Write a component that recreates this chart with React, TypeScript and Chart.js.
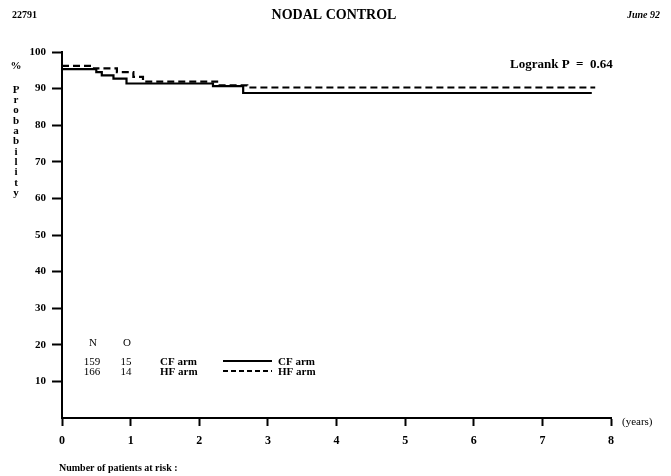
import React, { useEffect, useRef } from 'react';
import { Chart, registerables } from 'chart.js';

Chart.register(...registerables);

// Kaplan-Meier nodal control curves (time in years, % probability)
const cfYears = [0, 0.5, 0.58, 0.75, 0.94, 2.2, 2.64, 7.72];
const cfSurvival = [95.3, 94.5, 93.6, 92.7, 91.4, 90.7, 88.8, 88.8];
const hfYears = [0, 0.45, 0.8, 1.04, 1.18, 2.26, 2.7, 7.77];
const hfSurvival = [96.2, 95.5, 94.5, 93.2, 91.9, 90.9, 90.3, 90.3];

// Summary table: patients (N) and observed events (O)
const armNames = ['CF arm', 'HF arm'];
const armPatients = [159, 166];
const armEvents = [15, 14];

const yAxisLetters = ['P', 'r', 'o', 'b', 'a', 'b', 'i', 'l', 'i', 't', 'y'];

const SERIF = "'Liberation Serif', 'DejaVu Serif', serif";

const annotations = {
  id: 'annotations',
  afterDraw(chart: Chart) {
    const ctx = chart.ctx;
    const { right, bottom } = chart.chartArea;
    ctx.save();
    ctx.fillStyle = '#000';
    ctx.strokeStyle = '#000';
    ctx.textBaseline = 'middle';

    // header
    ctx.font = `bold 10px ${SERIF}`;
    ctx.textAlign = 'left';
    ctx.fillText('22791', 12, 15);
    ctx.font = `bold 14px ${SERIF}`;
    ctx.textAlign = 'center';
    ctx.fillText('NODAL CONTROL', 334, 15);
    ctx.font = `italic bold 10px ${SERIF}`;
    ctx.textAlign = 'right';
    ctx.fillText('June 92', 660, 15);

    // logrank
    ctx.font = `bold 13px ${SERIF}`;
    ctx.textAlign = 'left';
    ctx.fillText('Logrank P  =  0.64', 510, 65);

    // vertical y title
    ctx.font = `bold 11px ${SERIF}`;
    ctx.textAlign = 'center';
    ctx.fillText('%', 16, 66);
    yAxisLetters.forEach((ch, i) => ctx.fillText(ch, 16, 90 + i * 10.3));

    // x unit
    ctx.font = `11px ${SERIF}`;
    ctx.textAlign = 'left';
    ctx.fillText('(years)', right + 11, bottom + 4);

    // number at risk caption
    ctx.font = `bold 10px ${SERIF}`;
    ctx.fillText('Number of patients at risk :', 59, 468);

    // N / O table with line-style key
    ctx.font = `11px ${SERIF}`;
    ctx.textAlign = 'center';
    ctx.fillText('N', 93, 343);
    ctx.fillText('O', 127, 343);
    armNames.forEach((name, i) => {
      const y = 362 + i * 10;
      ctx.font = `11px ${SERIF}`;
      ctx.textAlign = 'center';
      ctx.fillText(String(armPatients[i]), 92, y);
      ctx.fillText(String(armEvents[i]), 126, y);
      ctx.font = `bold 11px ${SERIF}`;
      ctx.textAlign = 'left';
      ctx.fillText(name, 160, y);
      ctx.fillText(name, 278, y);
      ctx.beginPath();
      ctx.lineWidth = 2;
      ctx.setLineDash(i === 0 ? [] : [5, 3]);
      ctx.moveTo(223, y - 1);
      ctx.lineTo(272, y - 1);
      ctx.stroke();
    });
    ctx.restore();
  },
};

export default function App() {
  const canvasRef = useRef<HTMLCanvasElement | null>(null);

  useEffect(() => {
    if (!canvasRef.current) return;
    const chart = new Chart(canvasRef.current, {
      type: 'line',
      data: {
        datasets: [
          {
            label: 'CF arm',
            data: cfYears.map((x, i) => ({ x, y: cfSurvival[i] })),
            stepped: 'before',
            borderColor: '#000',
            borderWidth: 2.2,
            pointRadius: 0,
            fill: false,
          },
          {
            label: 'HF arm',
            data: hfYears.map((x, i) => ({ x, y: hfSurvival[i] })),
            stepped: 'before',
            borderColor: '#000',
            borderWidth: 2.2,
            borderDash: [7, 4],
            pointRadius: 0,
            fill: false,
          },
        ],
      },
      options: {
        animation: false,
        responsive: false,
        devicePixelRatio: 1,
        layout: { padding: { top: 52, right: 60, bottom: 0, left: 0 } },
        plugins: { legend: { display: false }, tooltip: { enabled: false }, title: { display: false } },
        scales: {
          x: {
            type: 'linear',
            min: 0,
            max: 8,
            afterFit: (s: any) => { s.height = 58; },
            ticks: {
              stepSize: 1,
              color: '#000',
              padding: 8,
              font: { family: SERIF, size: 12, weight: 'bold' },
            },
            grid: {
              drawOnChartArea: false,
              drawTicks: true,
              tickLength: 8,
              tickWidth: 2,
              tickColor: '#000',
            },
            border: { display: true, color: '#000', width: 2 },
          },
          y: {
            type: 'linear',
            min: 0,
            max: 100,
            afterFit: (s: any) => { s.width = 62; },
            ticks: {
              stepSize: 10,
              color: '#000',
              padding: 6,
              font: { family: SERIF, size: 11, weight: 'bold' },
              callback: (v: any) => (v === 0 ? '' : String(v)),
            },
            grid: {
              drawOnChartArea: false,
              drawTicks: true,
              tickLength: 10,
              tickWidth: 2,
              tickColor: (c: any) => (c.tick && c.tick.value === 0 ? 'rgba(0,0,0,0)' : '#000'),
            },
            border: { display: true, color: '#000', width: 2 },
          },
        },
      },
      plugins: [annotations],
    });
    return () => chart.destroy();
  }, []);

  return (
    <div style={{ position: 'absolute', left: 0, top: 0, width: 671, height: 476, background: '#fff' }}>
      <canvas ref={canvasRef} width={671} height={476} style={{ display: 'block' }} />
    </div>
  );
}
